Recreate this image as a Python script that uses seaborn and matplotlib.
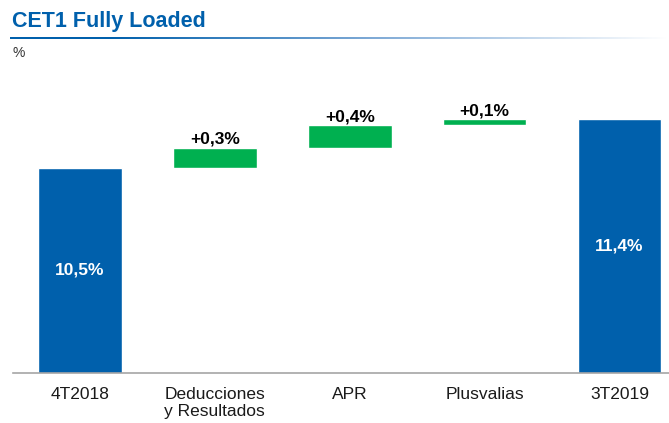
import matplotlib
matplotlib.use('Agg')
import matplotlib.pyplot as plt
import numpy as np
import pandas as pd
import seaborn as sns
from matplotlib.colors import LinearSegmentedColormap

# chart values
categories = ['4T2018', 'Deducciones\ny Resultados', 'APR', 'Plusvalias', '3T2019']
start_value = 10.5
deltas = [0.37, 0.41, 0.12]
end_value = 11.4
delta_labels = ['+0,3%', '+0,4%', '+0,1%']
total_labels = ['10,5%', '11,4%']

BLUE = '#0060AC'
GREEN = '#00B050'


def build_frame() -> pd.DataFrame:
    tops, bottoms = [start_value], [0.0]
    level = start_value
    for d in deltas:
        bottoms.append(level)
        level += d
        tops.append(level)
    tops.append(end_value)
    bottoms.append(0.0)
    colors = [BLUE] + [GREEN] * len(deltas) + [BLUE]
    return pd.DataFrame({'cat': categories, 'top': tops, 'bottom': bottoms, 'color': colors})


def main() -> None:
    df = build_frame()

    sns.set_theme(style='white')
    plt.rcParams['font.family'] = ['Liberation Sans', 'DejaVu Sans']

    fig = plt.figure(figsize=(6.69, 4.23), dpi=100)
    ax = fig.add_axes([12.5 / 669, 50 / 423, 656.5 / 669, 313 / 423])

    sns.barplot(data=df, x='cat', y='top', hue='cat', palette=dict(zip(df['cat'], df['color'])),
                width=0.62, legend=False, ax=ax, saturation=1)
    # hide the lower part of the floating bars
    sns.barplot(data=df, x='cat', y='bottom', color='white', width=0.64, ax=ax, saturation=1)

    ax.set_xlim(-0.5, 4.367)
    ax.set_ylim(6.73, 12.48)
    ax.set_xlabel('')
    ax.set_ylabel('')
    ax.set_yticks([])
    for side in ['left', 'top', 'right']:
        ax.spines[side].set_visible(False)
    ax.spines['bottom'].set_color('#A6A6A6')
    ax.spines['bottom'].set_linewidth(1.2)
    ax.tick_params(axis='x', length=0, pad=10, labelsize=12.5, labelcolor='#1A1A1A')
    for t in ax.get_xticklabels():
        t.set_linespacing(1.2)

    # increments above the green bars
    for i, lab in enumerate(delta_labels, start=1):
        ax.annotate(lab, (i, df['top'][i]), xytext=(0, 0.5), textcoords='offset points',
                    ha='center', va='bottom', fontsize=12.5, fontweight='bold', color='black')

    # totals inside the blue bars
    for i, lab in zip([0, len(categories) - 1], total_labels):
        mid = (ax.get_ylim()[0] + df['top'][i]) / 2
        ax.text(i, mid, lab, ha='center', va='center', fontsize=12.5, fontweight='bold', color='white')

    # title, gradient rule and unit
    fig.text(12.5 / 669, 1 - 26.7 / 423, 'CET1 Fully Loaded', ha='left', va='baseline',
             fontsize=15.5, fontweight='bold', color=BLUE)
    grad_ax = fig.add_axes([10 / 669, 1 - 39.3 / 423, 659 / 669, 2.6 / 423])
    cmap = LinearSegmentedColormap.from_list('rule', [(0, BLUE), (0.15, BLUE), (0.55, '#7FAAD6'), (1, '#FFFFFF')])
    grad_ax.imshow(np.linspace(0, 1, 300)[None, :], aspect='auto', cmap=cmap)
    grad_ax.axis('off')
    fig.text(13 / 669, 1 - 57 / 423, '%', ha='left', va='baseline', fontsize=10, color='#333333')

    fig.savefig('out.png', dpi=100)
    plt.close(fig)


if __name__ == '__main__':
    main()
